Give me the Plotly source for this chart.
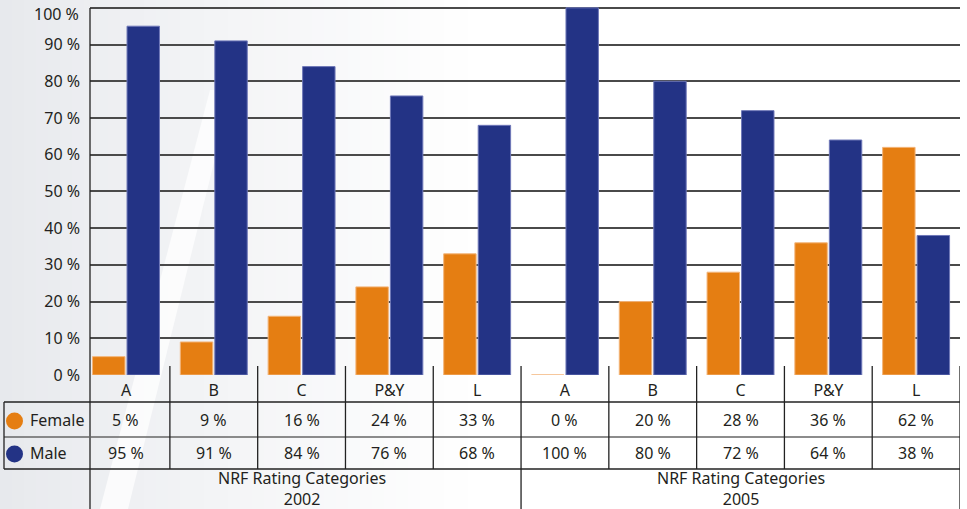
import plotly.graph_objects as go

# ---- data ----
categories = ["A", "B", "C", "P&Y", "L", "A", "B", "C", "P&Y", "L"]
female = [5, 9, 16, 24, 33, 0, 20, 28, 36, 62]
male = [95, 91, 84, 76, 68, 100, 80, 72, 64, 38]
group_labels = ["NRF Rating Categories<br>2002", "NRF Rating Categories<br>2005"]
group_centers = [2, 7]
series_names = ["Female", "Male"]
y_ticks = [0, 10, 20, 30, 40, 50, 60, 70, 80, 90, 100]
y_tick_text = [f"{v} %" for v in y_ticks]

ORANGE = "#E57E12"
NAVY = "#233385"
TXT = "#231f20"
FONT = "Noto Sans"

W, H = 967, 509
ML, MR, MT, MB = 90, 7, 6, 134
PW = W - ML - MR
PH = H - MT - MB


def px(p):
    return (p - ML) / PW


def py(p):
    return (H - MB - p) / PH


xs = list(range(len(categories)))

fig = go.Figure()
fig.add_trace(go.Bar(x=xs, y=female, name=series_names[0], marker=dict(color=ORANGE, line=dict(color="#f3b57a", width=1))))
fig.add_trace(go.Bar(x=xs, y=male, name=series_names[1], marker=dict(color=NAVY, line=dict(color="#6f78b8", width=1))))

shapes = []
# background gradient
n = 40
for i in range(n):
    x0 = i * 480 / n
    x1 = (i + 1) * 480 / n + 1
    t = (i / (n - 1)) ** 0.8
    c = [int(a + (255 - a) * t) for a in (231, 233, 237)]
    shapes.append(dict(type="rect", xref="paper", yref="paper", x0=px(x0), x1=px(x1), y0=py(H), y1=py(0),
                       fillcolor="rgb(%d,%d,%d)" % tuple(c), line=dict(width=0), layer="below"))
# diagonal light streak
pts = [(210, 90), (232, 90), (128, 509), (100, 509)]
path = "M " + " L ".join("%f,%f" % (px(a), py(b)) for a, b in pts) + " Z"
shapes.append(dict(type="path", xref="paper", yref="paper", path=path, fillcolor="rgba(255,255,255,0.75)",
                   line=dict(width=0), layer="below"))

LINE = dict(color="#222", width=1.3)
GLINE = dict(color="#666", width=1.3)
# left axis line
shapes.append(dict(type="line", xref="paper", yref="paper", x0=0, x1=0, y0=py(509), y1=py(8), line=LINE))
# table horizontal lines
shapes.append(dict(type="line", xref="paper", yref="paper", x0=px(4), x1=1, y0=py(402), y1=py(402), line=LINE))
shapes.append(dict(type="line", xref="paper", yref="paper", x0=px(4), x1=1, y0=py(437), y1=py(437), line=GLINE))
shapes.append(dict(type="line", xref="paper", yref="paper", x0=px(4), x1=1, y0=py(469), y1=py(469), line=LINE))
shapes.append(dict(type="line", xref="paper", yref="paper", x0=px(4), x1=px(4), y0=py(402), y1=py(469), line=LINE))
# column dividers
for k in range(len(categories)):
    b = k + 0.5
    bottom = 509 if k in (4, 9) else 469
    shapes.append(dict(type="line", xref="x", yref="paper", x0=b, x1=b, y0=py(bottom), y1=py(366), line=LINE))
# legend circles
for col, cy in ((ORANGE, 421), (NAVY, 454)):
    shapes.append(dict(type="circle", xref="paper", yref="paper", x0=px(6), x1=px(23), y0=py(cy - 8.5), y1=py(cy + 8.5),
                       fillcolor=col, line=dict(width=0)))

annotations = []
# top tick label placed slightly below its gridline (as in the reference)
top_label = y_tick_text[-1]
tick_text_axis = y_tick_text[:-1] + [""]
annotations.append(dict(text=top_label, xref="paper", yref="y", x=px(81), y=y_ticks[-1], yshift=-6,
                        xanchor="right", yanchor="middle", showarrow=False,
                        font=dict(size=16, color=TXT, family=FONT)))
for name, cy in zip(series_names, (420, 453)):
    annotations.append(dict(text=name, xref="paper", yref="paper", x=px(28), y=py(cy), xanchor="left", yanchor="middle",
                            showarrow=False, font=dict(size=16, color=TXT, family=FONT)))
for i in xs:
    annotations.append(dict(text=f"{female[i]} %", xref="x", yref="paper", x=i, y=py(420), showarrow=False,
                            xanchor="center", yanchor="middle", font=dict(size=16, color=TXT, family=FONT)))
    annotations.append(dict(text=f"{male[i]} %", xref="x", yref="paper", x=i, y=py(453), showarrow=False,
                            xanchor="center", yanchor="middle", font=dict(size=16, color=TXT, family=FONT)))
for g, c in zip(group_labels, group_centers):
    annotations.append(dict(text=g, xref="x", yref="paper", x=c, y=py(488), showarrow=False, xanchor="center",
                            yanchor="middle", font=dict(size=16, color=TXT, family=FONT)))

fig.update_layout(
    width=W, height=H,
    margin=dict(l=ML, r=MR, t=MT, b=MB, pad=0, autoexpand=False),
    paper_bgcolor="white", plot_bgcolor="rgba(0,0,0,0)",
    barmode="group", bargap=0.214, bargroupgap=0.06,
    showlegend=False,
    shapes=shapes, annotations=annotations,
    font=dict(family=FONT, size=16, color=TXT),
)
fig.update_xaxes(range=[-0.41, 9.5], tickmode="array", tickvals=xs, ticktext=categories, showgrid=False, zeroline=False,
                 showline=False, ticks="", ticklabelstandoff=4, automargin=False,
                 tickfont=dict(size=16, color=TXT, family=FONT))
fig.update_yaxes(range=[0, 100.5], tickmode="array", tickvals=y_ticks, ticktext=tick_text_axis, showgrid=True,
                 gridcolor="#4a4a4a", gridwidth=1.5, zeroline=False, showline=False, ticks="", ticklabelstandoff=9,
                 automargin=False, tickfont=dict(size=16, color=TXT, family=FONT))

fig.write_html("out.html", config={"displayModeBar": False},
               post_script="document.body.style.margin='0';document.body.style.padding='0';")
